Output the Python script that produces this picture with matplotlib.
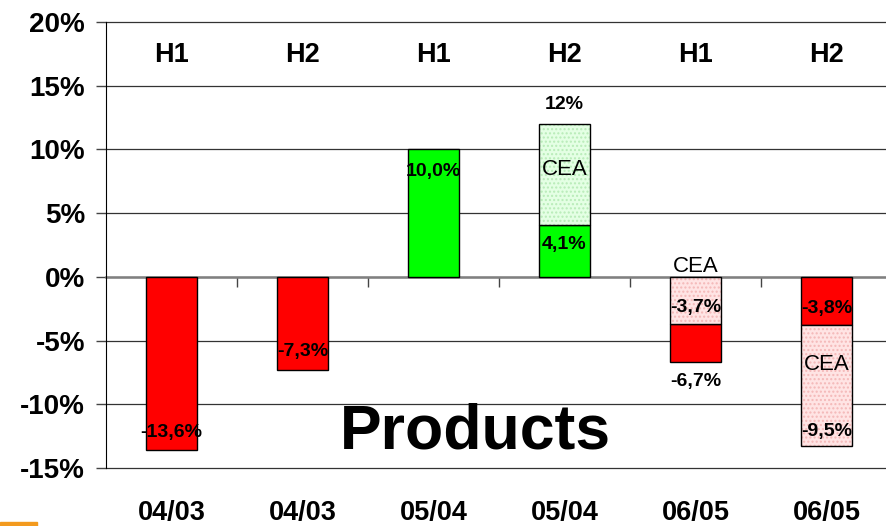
import matplotlib.pyplot as plt
import matplotlib.transforms as mtransforms
from matplotlib.patches import Rectangle

plt.rcParams["font.family"] = ["Liberation Sans", "DejaVu Sans"]
plt.rcParams["hatch.linewidth"] = 1.0

# ---- data (percent) ------------------------------------------------
periods = ["04/03", "04/03", "05/04", "05/04", "06/05", "06/05"]
halves  = ["H1", "H2", "H1", "H2", "H1", "H2"]
main    = [-13.6, -7.3, 10.0, 4.1, -3.0, -3.8]   # solid part
cea     = [0.0, 0.0, 0.0, 7.9, -3.7, -9.5]       # CEA part (dotted)
cea_first = [False, False, False, False, True, False]

# value labels: (bar index, text, y, bold)
labels = [
    (0, "-13,6%", -12.2, True),
    (1, "-7,3%", -5.85, True),
    (2, "10,0%", 8.3, True),
    (3, "12%", 13.5, True),
    (3, "CEA", 8.4, False),
    (3, "4,1%", 2.55, True),
    (4, "CEA", 0.8, False),
    (4, "-3,7%", -2.4, True),
    (4, "-6,7%", -8.2, True),
    (5, "-3,8%", -2.5, True),
    (5, "CEA", -6.9, False),
    (5, "-9,5%", -12.1, True),
]

W, H = 886, 526
fig = plt.figure(figsize=(W / 100, H / 100), dpi=100)
ax = fig.add_axes([106 / W, 58 / H, 786 / W, 446 / H])

x = list(range(len(periods)))
BW = 0.382

def solid_col(v):
    return "#ff0000" if v < 0 else "#00ff00"

def light_cols(v):
    return ("#ffe4e4", "#f4b8b8") if v < 0 else ("#e4ffe4", "#b8ecb8")

for i in x:
    m, c = main[i], cea[i]
    if cea_first[i]:
        c_bot, m_bot = 0.0, c
    else:
        m_bot, c_bot = 0.0, m
    ax.bar(i, m, bottom=m_bot, width=BW, color=solid_col(m),
           edgecolor="black", lw=1, zorder=3)
    if c != 0:
        fc, hc = light_cols(c)
        ax.bar(i, c, bottom=c_bot, width=BW, color=fc, edgecolor=hc,
               hatch="....", lw=0, zorder=3)
        ax.bar(i, c, bottom=c_bot, width=BW, fill=False,
               edgecolor="black", lw=1, zorder=4)

for i, txt, y, bold in labels:
    ax.text(i, y, txt, ha="center", va="center", zorder=5,
            fontsize=14 if bold else 16,
            fontweight="bold" if bold else "normal")

for i in x:
    ax.text(i, 17.4, halves[i], ha="center", va="center",
            fontsize=19.5, fontweight="bold")

trans = mtransforms.blended_transform_factory(ax.transData, ax.transAxes)
for i in x:
    ax.text(i, -0.1, periods[i], transform=trans, ha="center",
            va="center", fontsize=19.5, fontweight="bold")

ax.text(2.32, -13.5, "Products", ha="center", va="baseline",
        fontsize=45, fontweight="bold", zorder=6)

# ---- axes ----------------------------------------------------------
ax.set_xlim(-0.5, 5.5)
ax.set_ylim(-15, 20)
ax.set_yticks(range(-15, 21, 5))
ax.set_yticklabels([f"{v}%" for v in range(-15, 21, 5)],
                   fontsize=20, fontweight="bold")
ax.tick_params(axis="y", length=7, width=1, color="#444444", pad=8)
ax.yaxis.grid(True, color="#333333", lw=0.9, zorder=0)
ax.set_axisbelow(True)
for gl in ax.get_ygridlines():
    gl.set_clip_on(False)

ax.spines["top"].set_visible(False)
ax.spines["right"].set_visible(False)
ax.spines["left"].set_color("black")
ax.spines["bottom"].set_position(("data", 0))
ax.spines["bottom"].set_color("#808080")
ax.spines["bottom"].set_linewidth(1.8)
ax.spines["bottom"].set_zorder(2)
ax.set_xticks([k + 0.5 for k in x[:-1]])
ax.set_xticklabels([])
ax.tick_params(axis="x", direction="out", length=7, width=1, color="#444444")

fig.patches.append(Rectangle((0, 0), 37 / W, 4 / H, transform=fig.transFigure,
                             color="#f39a1e", zorder=0))

fig.savefig("out.png", dpi=100)
